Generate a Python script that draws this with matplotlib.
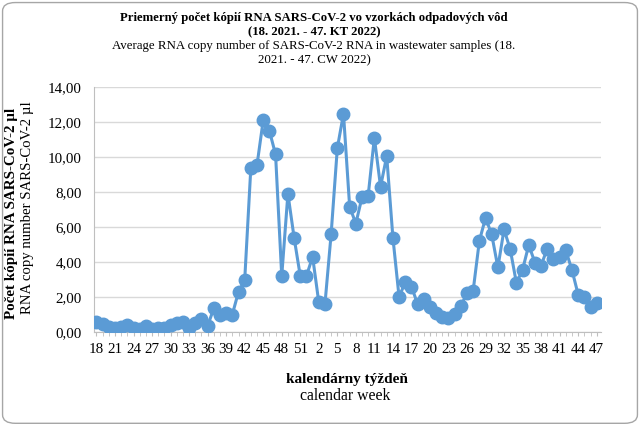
import numpy as np
import matplotlib
matplotlib.use("Agg")
import matplotlib.pyplot as plt
from matplotlib.patches import FancyBboxPatch

# calendar weeks 18-52 of 2021 and 1-47 of 2022
weeks_2021 = list(range(18, 53))
weeks_2022 = list(range(1, 48))
weeks = weeks_2021 + weeks_2022

values = [0.55, 0.45, 0.30, 0.25, 0.30, 0.42, 0.25, 0.20, 0.35, 0.20,
          0.25, 0.25, 0.40, 0.50, 0.55, 0.25, 0.50, 0.75, 0.35, 1.35,
          1.00, 1.10, 1.00, 2.30, 2.95, 9.40, 9.55, 12.10, 11.50, 10.15,
          3.20, 7.90, 5.40, 3.20, 3.20,
          4.30, 1.70, 1.60, 5.60, 10.50, 12.47, 7.15, 6.20, 7.70, 7.80,
          11.10, 8.30, 10.05, 5.40, 2.00, 2.85, 2.60, 1.60, 1.90, 1.43,
          1.08, 0.86, 0.80, 1.05, 1.46, 2.24, 2.37, 5.20, 6.52, 5.58,
          3.69, 5.86, 4.73, 2.80, 3.56, 4.97, 3.97, 3.80, 4.77, 4.20,
          4.26, 4.67, 3.54, 2.14, 1.99, 1.42, 1.65]

serif = "Liberation Serif"
blue = "#5B9BD5"

fig = plt.figure(figsize=(6.4, 4.25), dpi=100)
fig.patches.append(FancyBboxPatch((0.004, 0.004), 0.992, 0.99,
                                  boxstyle="round,pad=0,rounding_size=0.02",
                                  transform=fig.transFigure, fc="white",
                                  ec="#A6A6A6", lw=1.0, zorder=-1))

ax = fig.add_axes([94 / 640, 1 - 332 / 425, (601 - 94) / 640, (332 - 87) / 425])
x = np.arange(len(values))
ax.plot(x, values, color=blue, lw=2.2, marker="o", ms=9, zorder=3)

ax.set_ylim(0, 14)
ax.set_yticks(np.arange(0, 15, 2))
ax.set_yticklabels([f"{v:.2f}".replace(".", ",") for v in np.arange(0, 15, 2)],
                   fontfamily=serif, fontsize=10.8)
ax.set_xlim(-0.4, 81.7)
ax.set_xticks(x, minor=True)
ax.set_xticks(x[::3])
ax.set_xticklabels([str(weeks[i]) for i in x[::3]], fontfamily=serif, fontsize=10.8)
ax.tick_params(axis="x", which="both", length=3, color="#BFBFBF", pad=5)
ax.tick_params(axis="y", length=0, pad=9)
ax.grid(axis="y", color="#D9D9D9", lw=1)
ax.set_axisbelow(True)
for s in ["top", "right"]:
    ax.spines[s].set_visible(False)
for s in ["left", "bottom"]:
    ax.spines[s].set_color("#BFBFBF")

tx = 314 / 640
fig.text(tx, 1 - 17.5 / 425, "Priemerný počet kópií RNA SARS-CoV-2 vo vzorkách odpadových vôd",
         ha="center", va="center", fontfamily=serif, fontsize=9.2, fontweight="bold")
fig.text(tx, 1 - 32 / 425, "(18. 2021. - 47. KT 2022)",
         ha="center", va="center", fontfamily=serif, fontsize=9.2, fontweight="bold")
fig.text(tx, 1 - 46 / 425, "Average RNA copy number of SARS-CoV-2 RNA in wastewater samples (18.",
         ha="center", va="center", fontfamily=serif, fontsize=9.3)
fig.text(tx, 1 - 60 / 425, "2021. - 47. CW 2022)",
         ha="center", va="center", fontfamily=serif, fontsize=9.3)

fig.text(12 / 640, 1 - 213 / 425, "Počet kópií RNA SARS-CoV-2 µl", rotation=90,
         ha="center", va="center", fontfamily=serif, fontsize=10.8, fontweight="bold")
fig.text(28 / 640, 1 - 208 / 425, "RNA copy number SARS-CoV-2 µl", rotation=90,
         ha="center", va="center", fontfamily=serif, fontsize=10.6)

fig.text(347 / 640, 1 - 379 / 425, "kalendárny týždeň",
         ha="center", va="center", fontfamily=serif, fontsize=11, fontweight="bold")
fig.text(345 / 640, 1 - 396 / 425, "calendar week",
         ha="center", va="center", fontfamily=serif, fontsize=11.3)

fig.savefig("out.png", dpi=100)
